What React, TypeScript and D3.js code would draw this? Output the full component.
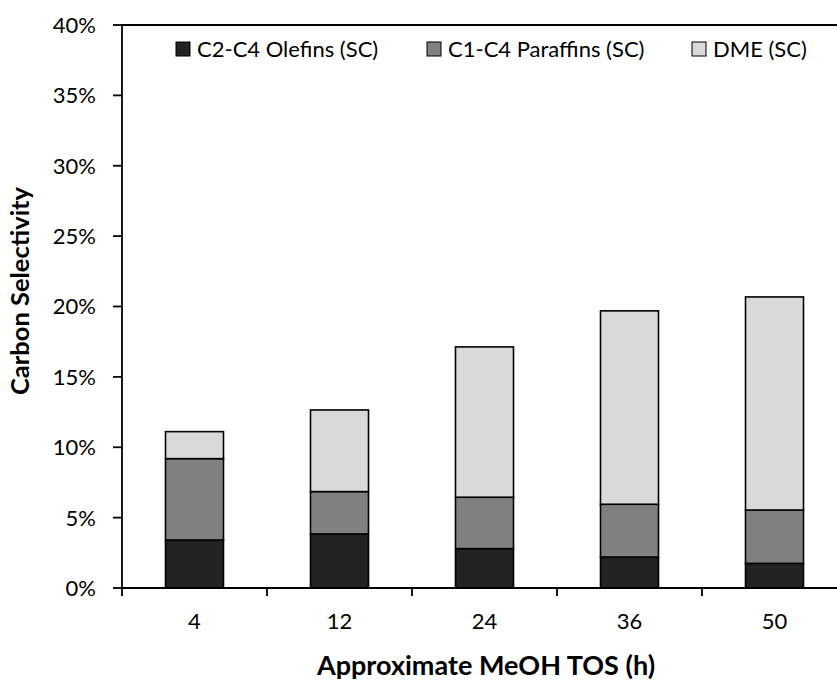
import React from "react";
import * as d3 from "d3";

const categories = ["4", "12", "24", "36", "50"];
const olefins = [3.41, 3.84, 2.8, 2.2, 1.75];
const paraffins = [5.78, 3.01, 3.65, 3.75, 3.79];
const dme = [1.92, 5.8, 10.68, 13.74, 15.14];
const yTicks = [0, 5, 10, 15, 20, 25, 30, 35, 40];
const seriesNames = ["C2-C4 Olefins (SC)", "C1-C4 Paraffins (SC)", "DME (SC)"];
const seriesColors = ["#222222", "#808080", "#d9d9d9"];

const W = 837;
const H = 684;
const left = 122;
const right = 847;
const top = 25;
const bottom = 588;
const FONT = "Lato, 'Open Sans', sans-serif";

export default function App() {
  const x = d3.scaleBand<string>().domain(categories).range([left, right]).paddingInner(0.6).paddingOuter(0.3);
  const y = d3.scaleLinear().domain([0, 40]).range([bottom, top]);
  const step = x.step();

  const rows = categories.map((c, i) => ({ cat: c, olefins: olefins[i], paraffins: paraffins[i], dme: dme[i] }));
  const stack = d3.stack<any>().keys(["olefins", "paraffins", "dme"])(rows);

  const legendX = [176, 427, 692];

  return (
    <svg width={W} height={H} style={{ display: "block", position: "absolute", left: 0, top: 0 }}>
      <rect x={0} y={0} width={W} height={H} fill="#fff" />
      {/* stacked bars */}
      {stack.map((layer, li) =>
        layer.map((d, i) => (
          <rect
            key={`${li}-${i}`}
            x={x(categories[i])}
            y={y(d[1])}
            width={x.bandwidth()}
            height={y(d[0]) - y(d[1])}
            fill={seriesColors[li]}
            stroke="#000"
            strokeWidth={1.6}
          />
        ))
      )}
      {/* top border */}
      <line x1={left} x2={right} y1={top} y2={top} stroke="#000" strokeWidth={1.8} />
      {/* y axis */}
      <line x1={left} x2={left} y1={top} y2={bottom} stroke="#000" strokeWidth={1.8} />
      {yTicks.map((t) => (
        <g key={t}>
          <line x1={left - 9} x2={left} y1={y(t)} y2={y(t)} stroke="#000" strokeWidth={1.8} />
          <text x={96} y={y(t)} dy="0.36em" textAnchor="end" fontFamily={FONT} fontSize={22} fill="#000">
            {t}%
          </text>
        </g>
      ))}
      {/* x axis */}
      <line x1={left} x2={right} y1={bottom} y2={bottom} stroke="#000" strokeWidth={1.8} />
      {categories.map((c, i) => (
        <g key={c}>
          <line x1={left + step * i} x2={left + step * i} y1={bottom} y2={bottom + 8} stroke="#000" strokeWidth={1.8} />
          <text x={(x(c) as number) + x.bandwidth() / 2} y={629} textAnchor="middle" fontFamily={FONT} fontSize={22} fill="#000">
            {c}
          </text>
        </g>
      ))}
      {/* axis titles */}
      <text x={486} y={675} textAnchor="middle" fontFamily={FONT} fontSize={27} fontWeight="bold" fill="#000">
        Approximate MeOH TOS (h)
      </text>
      <text transform="translate(29,291) rotate(-90)" textAnchor="middle" fontFamily={FONT} fontSize={25.5} fontWeight="bold" fill="#000">
        Carbon Selectivity
      </text>
      {/* legend */}
      {seriesNames.map((n, i) => (
        <g key={n}>
          <rect x={legendX[i]} y={42} width={14} height={14} fill={seriesColors[i]} stroke="#000" strokeWidth={1} />
          <text x={legendX[i] + 21} y={57} fontFamily={FONT} fontSize={22} fill="#000">
            {n}
          </text>
        </g>
      ))}
    </svg>
  );
}
